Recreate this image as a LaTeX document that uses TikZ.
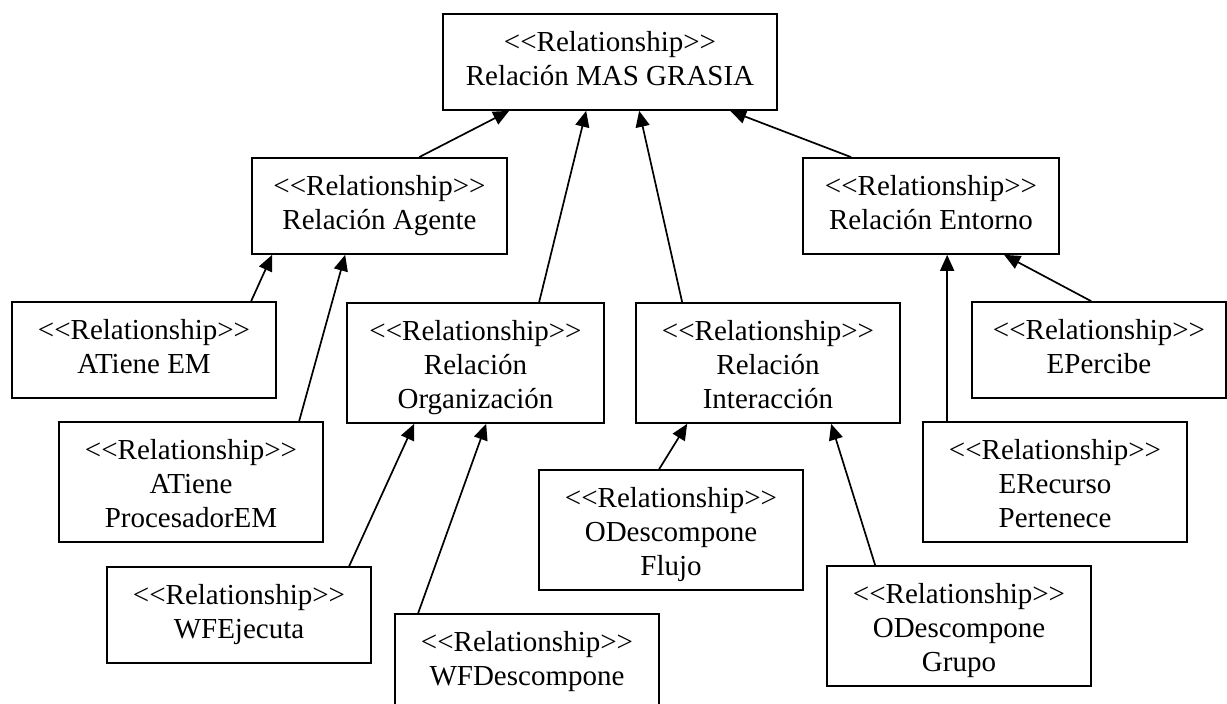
\documentclass[tikz,border=0pt]{standalone}
\usepackage{fontspec}
\setmainfont{Liberation Serif}
\usetikzlibrary{arrows.meta}
\begin{document}
\begin{tikzpicture}[x=1pt,y=-1pt,
  rel/.style={draw, line width=1.7pt, inner sep=0pt, align=center,
    font=\fontsize{29}{34}\selectfont, minimum height=96pt, minimum width=264pt},
  tall/.style={minimum height=120pt},
  arr/.style={line width=1.7pt, -{Triangle[length=16pt,width=14pt]}}]
\useasboundingbox (0,0) rectangle (1227,704);
\newcommand{\rl}{{<}{<}Relationship{>}{>}}
\newcommand{\rlt}{\rule{0pt}{30pt}{<}{<}Relationship{>}{>}}
\newcommand{\ed}{\rule[-7pt]{0pt}{0pt}}
% level 0
\node[rel, minimum width=334pt] (mas) at (610,62) {\rl\\Relación MAS GRASIA\ed};
% level 1
\node[rel, minimum width=255pt] (agente) at (379.5,206) {\rl\\Relación Agente\ed};
\node[rel, minimum width=256pt] (entorno) at (931,206) {\rl\\Relación Entorno\ed};
% level 2
\node[rel] (atem) at (144,350) {\rl\\ATiene EM\ed};
\node[rel, tall, minimum width=257pt] (org) at (475.5,363) {\rlt\\Relación\\Organización\ed};
\node[rel, tall] (inter) at (768,363) {\rlt\\Relación\\Interacción\ed};
\node[rel, minimum width=254pt] (eper) at (1099,350) {\rl\\EPercibe\ed};
% level 3
\node[rel, tall] (proc) at (191,482) {\rlt\\ATiene\\ProcesadorEM\ed};
\node[rel, tall] (erec) at (1055,482) {\rlt\\ERecurso\\Pertenece\ed};
\node[rel, tall] (flujo) at (671,530) {\rlt\\ODescompone\\Flujo\ed};
% level 4
\node[rel] (wfej) at (239,615) {\rl\\WFEjecuta\ed};
\node[rel, tall] (grupo) at (959,626) {\rlt\\ODescompone\\Grupo\ed};
\node[rel] (wfdesc) at (527,662) {\rl\\WFDescompone\ed};
% connectors
\draw[arr] ([xshift=168pt]agente.north west) -- ([xshift=67pt]mas.south west);
\draw[arr] ([xshift=193pt]org.north west) -- ([xshift=144pt]mas.south west);
\draw[arr] ([xshift=47pt]inter.north west) -- ([xshift=197pt]mas.south west);
\draw[arr] ([xshift=49pt]entorno.north west) -- ([xshift=288pt]mas.south west);
\draw[arr] ([xshift=240pt]atem.north west) -- ([xshift=21pt]agente.south west);
\draw[arr] ([xshift=241pt]proc.north west) -- ([xshift=94pt]agente.south west);
\draw[arr] ([xshift=243pt]wfej.north west) -- ([xshift=68pt]org.south west);
\draw[arr] ([xshift=24pt]wfdesc.north west) -- ([xshift=140pt]org.south west);
\draw[arr] ([xshift=121pt]flujo.north west) -- ([xshift=52pt]inter.south west);
\draw[arr] ([xshift=49pt]grupo.north west) -- ([xshift=196pt]inter.south west);
\draw[arr] ([xshift=25pt]erec.north west) -- ([xshift=145pt]entorno.south west);
\draw[arr] ([xshift=120pt]eper.north west) -- ([xshift=202pt]entorno.south west);
\end{tikzpicture}
\end{document}
